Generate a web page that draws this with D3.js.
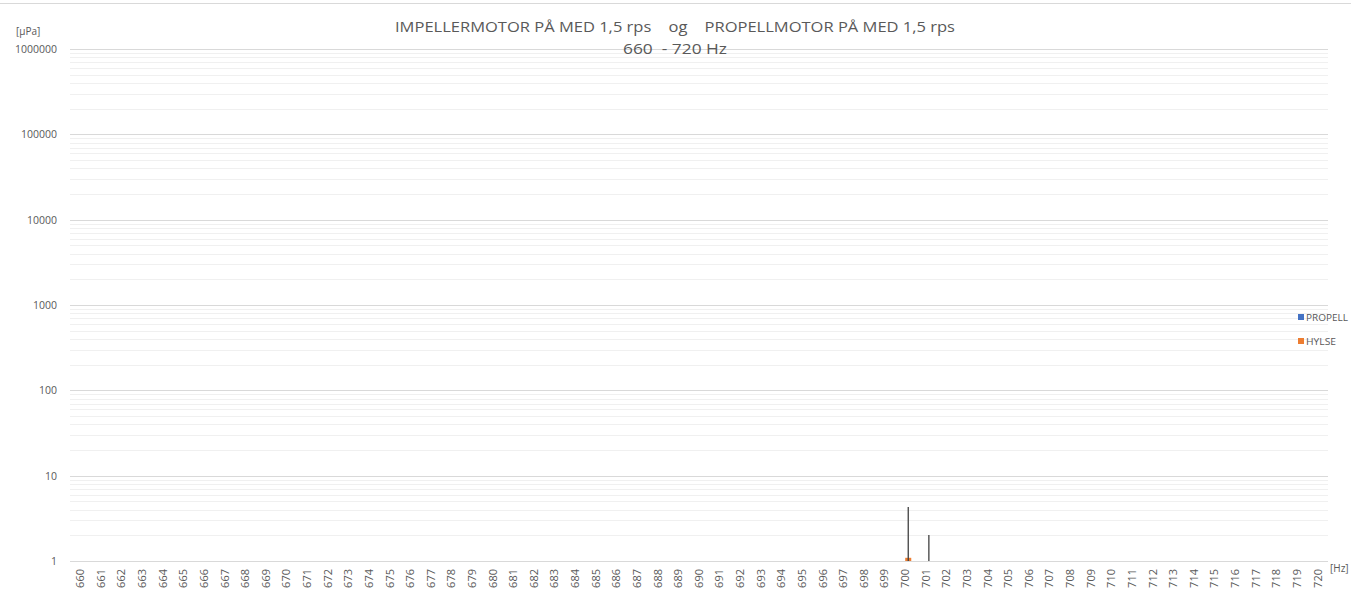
<!DOCTYPE html>
<html><head><meta charset="utf-8">
<script src="https://cdn.jsdelivr.net/npm/d3@7"></script>
<style>body{margin:0;background:#fff;} svg{display:block;}</style>
</head><body>
<script>
const categories = [660,661,662,663,664,665,666,667,668,669,670,671,672,673,674,675,676,677,678,679,680,681,682,683,684,685,686,687,688,689,690,691,692,693,694,695,696,697,698,699,700,701,702,703,704,705,706,707,708,709,710,711,712,713,714,715,716,717,718,719,720];
// Only non-baseline values are listed; all others are at or below 1 µPa (not visible on the log axis)
const propellValues = [];           // [category, value]
const hylseValues = [[700, 1.09], [701, 1.0]];
const hylseErrorTops = [[700, 4.3], [701, 2.02]];
const yTicks = [1, 10, 100, 1000, 10000, 100000, 1000000];
const seriesNames = ["PROPELL", "HYLSE"];
const seriesColors = ["#4472C4", "#ED7D31"];

const W = 1351, H = 589;
const svg = d3.select("body").append("svg").attr("width", W).attr("height", H);
const font = "'Open Sans', 'Liberation Sans', sans-serif";

svg.append("line").attr("x1",0).attr("x2",W).attr("y1",3.5).attr("y2",3.5).attr("stroke","#d9d9d9");

const x = d3.scaleBand().domain(categories).range([70, 1328]).paddingInner(0).paddingOuter(0);
const y = d3.scaleLog().domain([1, 1000000]).range([561, 49]);
const xs = d3.scaleBand().domain(seriesNames).range([0, x.bandwidth()]).paddingInner(0).paddingOuter(0.71);

// minor grid
const minor = [];
for (let e = 0; e < 6; e++) for (let m = 2; m <= 9; m++) minor.push(m * Math.pow(10, e));
svg.append("g").selectAll("line").data(minor).join("line")
  .attr("x1", 70).attr("x2", 1328)
  .attr("y1", d => Math.round(y(d)) + 0.5).attr("y2", d => Math.round(y(d)) + 0.5)
  .attr("stroke", "#f0f0f0").attr("stroke-width", 1);
// major grid
svg.append("g").selectAll("line").data(yTicks).join("line")
  .attr("x1", 70).attr("x2", 1328)
  .attr("y1", d => Math.round(y(d)) + 0.5).attr("y2", d => Math.round(y(d)) + 0.5)
  .attr("stroke", "#d9d9d9").attr("stroke-width", 1);

// y axis labels
const yAxis = d3.axisLeft(y).tickValues(yTicks).tickFormat(d3.format("d")).tickSize(0).tickPadding(13);
const gy = svg.append("g").attr("transform", "translate(70,0)").call(yAxis);
gy.select(".domain").remove();
gy.selectAll("text").attr("font-family", font).attr("font-size", 10.5).attr("fill", "#595959");

// x axis labels
const xAxis = d3.axisBottom(x).tickSize(0).tickPadding(0);
const gx = svg.append("g").attr("transform", "translate(0,561)").call(xAxis);
gx.select(".domain").remove();
gx.selectAll("text").attr("font-family", font).attr("font-size", 11).attr("fill", "#595959")
  .attr("text-anchor", "end").attr("dy", "0.35em")
  .attr("transform", "translate(0,8) rotate(-90)");

// bars
svg.append("g").selectAll("rect").data(propellValues).join("rect")
  .attr("x", d => x(d[0]) + xs("PROPELL")).attr("width", xs.bandwidth())
  .attr("y", d => y(d[1])).attr("height", d => y(1) - y(d[1])).attr("fill", seriesColors[0]);
svg.append("g").selectAll("rect").data(hylseValues).join("rect")
  .attr("x", d => x(d[0]) + xs("HYLSE")).attr("width", xs.bandwidth())
  .attr("y", d => y(d[1])).attr("height", d => y(1) - y(d[1])).attr("fill", seriesColors[1]);
// error bars
svg.append("g").selectAll("line").data(hylseErrorTops).join("line")
  .attr("x1", d => x(d[0]) + xs("HYLSE") + xs.bandwidth()/2)
  .attr("x2", d => x(d[0]) + xs("HYLSE") + xs.bandwidth()/2)
  .attr("y1", d => y(d[1])).attr("y2", y(1))
  .attr("stroke", "#404040").attr("stroke-width", 1.3);

// axis labels
svg.append("text").attr("x", 16).attr("y", 35).text("[µPa]")
  .attr("font-family", font).attr("font-size", 10).attr("fill", "#595959");
svg.append("text").attr("x", 1330).attr("y", 572).text("[Hz]")
  .attr("font-family", font).attr("font-size", 10).attr("fill", "#595959");

// title
svg.append("text").attr("x", 675).attr("y", 32).attr("text-anchor", "middle")
  .attr("font-family", font).attr("font-size", 15).attr("fill", "#595959")
  .style("white-space", "pre")
  .attr("textLength", 560).attr("lengthAdjust", "spacingAndGlyphs")
  .text("IMPELLERMOTOR PÅ MED 1,5 rps    og    PROPELLMOTOR PÅ MED 1,5 rps");
svg.append("text").attr("x", 675).attr("y", 54).attr("text-anchor", "middle")
  .attr("font-family", font).attr("font-size", 15).attr("fill", "#595959")
  .style("white-space", "pre")
  .attr("textLength", 104).attr("lengthAdjust", "spacingAndGlyphs")
  .text("660  - 720 Hz");

// legend
const leg = svg.append("g").selectAll("g").data(seriesNames).join("g")
  .attr("transform", (d, i) => `translate(1298,${314 + i * 24})`);
leg.append("rect").attr("width", 6).attr("height", 6).attr("fill", (d, i) => seriesColors[i]);
leg.append("text").attr("x", 8).attr("y", 6.5).text(d => d)
  .attr("font-family", font).attr("font-size", 9).attr("fill", "#595959")
  .attr("textLength", d => d === "PROPELL" ? 42 : 30).attr("lengthAdjust", "spacingAndGlyphs");
</script>
</body></html>
